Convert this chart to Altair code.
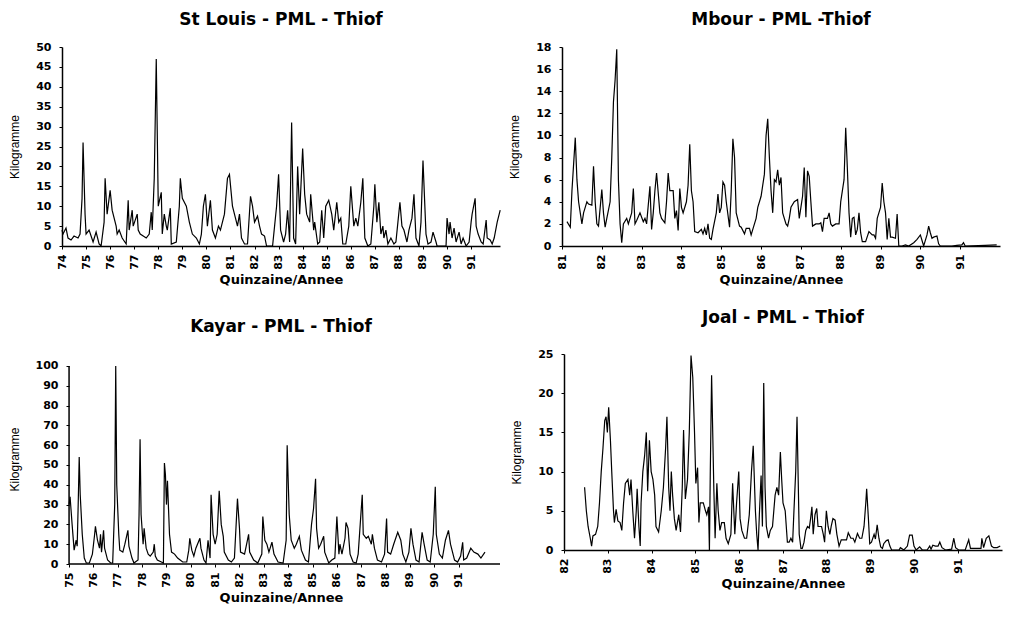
import altair as alt
import pandas as pd

# ---- St Louis: (quinzaine index from Jan 1974, kg) ----
st_louis = [(0,4),(1,3),(4,4.5),(6,2),(9,1.5),(12,2.5),(16,2),(18,3),(20,12),(21,26),(23,8),(24,3),(27,4),(31,1),(34,3.5),(37,0.5),(39,0),(42,6),(43,17),(45,8),(48,14),(50,9),(54,5),(55,3),(57,4),(60,2),(64,0.5),(66,11.5),(67,4),(70,9),(71,5),(75,8),(76,4),(78,3),(81,2.5),(84,2),(87,3),(89,8.5),(90,4),(92,17),(94,47),(96,10),(99,13.5),(100,3),(102,8),(104,5),(105,4),(108,9.5),(109,0.5),(114,1),(117,10),(118,17),(120,12),(124,10),(127,6),(130,3),(134,2),(137,0.5),(139,3),(141,10),(143,13),(145,5),(148,11.5),(150,4),(153,2),(156,5),(158,4),(162,8),(165,17),(167,18),(170,10),(173,7),(175,5),(177,8),(179,2),(182,0.5),(185,0.5),(188,12.5),(190,10),(192,6),(195,7.5),(197,5),(199,3),(202,2.5),(204,0),(210,0),(212,5),(214,10),(216,18),(218,4),(221,1),(223,3),(225,9),(227,1),(229,31),(231,2),(233,0.5),(235,20),(237,8),(240,24.5),(242,13),(244,8),(247,6),(248,13),(251,4),(252,6),(255,0.5),(257,1),(259,9),(261,2),(263,10),(266,11.5),(269,8),(271,4),(274,11),(276,6),(278,7),(280,0.5),(283,0.5),(286,5),(288,15),(291,5),(293,7),(295,5),(298,11),(300,17),(302,2),(305,0),(308,0.5),(311,10),(312,15.5),(314,6),(316,11),(318,3),(320,5),(321,2),(323,4),(325,0.5),(328,2),(331,0.5),(333,1),(335,6),(337,11),(339,5),(341,4),(344,1),(346,4),(349,7),(351,13),(353,2),(356,0),(358,6),(360,21.5),(363,3),(365,0.5),(368,1),(370,3.5),(373,1),(374,0),(383,0),(384,7),(386,3),(387,6),(389,2),(391,4.5),(393,1),(396,3.5),(398,0.5),(400,2),(403,0),(406,1),(408,6),(409,8),(412,12),(413,5),(415,3),(418,1),(420,0.5),(423,6.5),(424,2),(427,1.5),(429,0.5),(431,2),(434,6),(437,9)]

# ---- Mbour: (quinzaine index from Jan 1981, kg) ----
mbour = [(3,2.2),(5,1.7),(6,5),(8,9.8),(9,6),(10,4),(12,2),(13,3),(15,4),(16,3.8),(18,3.7),(19,7.2),(20,4),(21,2),(22,1.8),(24,5.1),(25,3),(26,1.7),(27,2.5),(29,4),(30,8),(31,13),(32,15),(33,17.8),(34,6),(35,2),(36,0.3),(37,2),(39,2.5),(40,2),(42,3),(43,5.2),(44,2),(45,2.3),(47,3),(49,2.2),(50,2.5),(51,2),(53,5.4),(54,1.5),(55,3),(56,5),(57,6.6),(59,3),(60,2.5),(62,2.1),(63,4),(64,6.6),(65,5),(67,5),(68,2.5),(69,3.2),(70,1.4),(71,5.2),(72,3.5),(73,3),(75,4),(76,5.5),(77,9.2),(78,5),(79,4),(80,1.3),(82,1.2),(84,1.5),(85,1.1),(86,1.6),(87,1),(88,2),(89,0.7),(90,0.6),(91,1.5),(93,3),(94,4.7),(95,3),(96,3.5),(97,5.8),(98,5.5),(99,4),(101,1.7),(102,5),(103,9.7),(104,8),(105,3),(107,1.8),(108,1.7),(110,1.1),(111,1.6),(113,1.6),(114,1),(115,1.5),(117,2.5),(118,3.5),(120,4.5),(121,5.5),(122,6.5),(123,10),(124,11.5),(125,8),(126,5),(127,3),(128,6),(129,5.8),(130,6.9),(131,5.5),(132,6.2),(133,3),(135,2),(136,1.8),(137,2.5),(138,3.5),(140,4),(142,4.2),(143,2.5),(144,3.5),(145,4.5),(146,7.1),(147,2.6),(148,6.8),(149,6.3),(150,4),(151,1.8),(153,2),(155,2),(156,2.1),(157,1.3),(158,2.5),(160,2.5),(161,3),(162,2),(163,1.8),(165,2),(167,2),(168,4),(170,6),(171,10.7),(172,7),(173,3),(174,0.8),(175,2.5),(176,2.6),(177,1),(178,1.5),(179,3),(180,1.2),(181,0.4),(183,0.4),(185,1.3),(187,1),(188,1),(189,0.7),(190,2.5),(192,3.5),(193,5.7),(194,4),(195,3),(196,0.6),(197,2.5),(198,0.8),(199,0.8),(201,0.7),(202,2.9),(203,0),(205,0),(207,0.1),(209,0),(212,0.3),(214,0.6),(216,1),(217,0.5),(218,0),(220,1),(221,1.8),(222,1.2),(223,0.7),(224,0.8),(226,0.9),(227,0.2),(228,0),(235,0),(238,0.05),(241,0.1),(242,0.3),(243,0),(255,0.05),(262,0.1)]

# ---- Kayar: (quinzaine index from Jan 1975, kg) ----
kayar = [(0,30),(1,34),(3,20),(5,7),(7,12),(8,9),(9,30),(10,54),(11,35),(13,15),(15,3),(17,0.5),(20,0.5),(23,5),(25,14),(26,19),(28,12),(30,8),(31,15),(32,6),(34,17),(35,8),(38,2),(41,0.5),(43,0.5),(45,30),(46,100),(47,40),(49,15),(50,7),(53,6),(55,10),(58,17),(59,9),(62,3),(64,0.5),(68,2),(69,25),(70,63),(71,25),(73,10),(74,18),(76,8),(78,5),(80,4),(83,6),(84,10),(85,4),(87,2),(91,1),(93,0.5),(94,51),(95,45),(96,30),(97,42),(99,15),(101,6),(104,5),(107,3),(112,1),(116,1),(118,7),(119,13),(121,7),(123,4),(125,8),(129,13),(130,8),(133,2),(135,0.5),(137,12),(139,3),(140,35),(142,15),(144,10),(146,15),(148,37),(150,20),(152,14),(153,6),(157,2),(160,1),(163,3),(166,33),(168,18),(169,6),(173,5),(177,15),(178,6),(182,2),(186,0.5),(190,5),(191,24),(193,12),(195,10),(197,6),(200,11),(202,5),(206,1),(211,0.5),(214,12),(215,60),(217,25),(219,12),(222,8),(224,10),(227,14),(229,7),(233,2),(236,1),(239,20),(241,28),(243,43),(244,18),(246,8),(248,10),(251,14),(252,6),(256,0.5),(259,2),(262,3),(264,24),(266,5),(267,10),(269,5),(272,13),(273,21),(275,18),(277,5),(280,1),(283,0.5),(285,5),(287,20),(289,35),(290,15),(293,13),(295,14),(298,10),(299,15),(301,8),(304,2),(308,1),(311,5),(313,23),(314,6),(317,5),(320,10),(324,16),(327,12),(329,5),(332,1),(335,6),(337,18),(339,10),(342,2),(345,1),(348,16),(350,10),(353,2),(356,1),(359,15),(361,39),(362,15),(365,5),(368,3),(371,12),(374,17),(376,10),(380,2),(383,1),(386,4),(388,11),(389,2),(392,3),(396,8),(399,6),(403,5),(406,3),(410,6)]

# ---- Joal: (year, kg) ----
joal = [(82.47,8),(82.51,5),(82.55,3),(82.60,1.5),(82.63,0.5),(82.66,1.8),(82.72,2),(82.77,3),(82.81,6),(82.85,10),(82.89,13),(82.93,16.5),(82.96,17),(82.99,15),(83.02,18.2),(83.06,14),(83.09,10),(83.13,5),(83.15,3.5),(83.19,5.2),(83.23,3.7),(83.28,3.5),(83.32,2.5),(83.36,6),(83.40,8.5),(83.46,9),(83.50,7),(83.53,9),(83.57,5),(83.61,1.5),(83.65,5),(83.67,7.8),(83.71,3),(83.74,0.5),(83.76,6),(83.80,10),(83.84,12),(83.88,15),(83.91,7.5),(83.95,14),(83.99,10),(84.03,9),(84.07,7),(84.10,3),(84.16,2.3),(84.22,5),(84.27,8),(84.32,13),(84.35,17),(84.39,8),(84.42,5),(84.45,10),(84.48,7),(84.52,4),(84.56,2.5),(84.62,4.5),(84.66,2.3),(84.70,8),(84.73,15.3),(84.77,6.5),(84.82,9),(84.86,15),(84.90,24.8),(84.94,22),(84.98,15),(85.01,8.5),(85.05,10.5),(85.08,3.5),(85.11,6),(85.18,6),(85.23,5),(85.26,4.5),(85.30,5.5),(85.32,0),(85.34,10),(85.37,22.3),(85.42,8),(85.45,1.5),(85.49,8.5),(85.52,5),(85.56,2.5),(85.60,3.5),(85.66,3.5),(85.70,1.5),(85.75,0.8),(85.81,2),(85.85,8.5),(85.90,2),(85.94,6),(85.99,10),(86.02,4),(86.06,2.5),(86.12,1.5),(86.17,1.5),(86.23,4.5),(86.28,10),(86.32,13.3),(86.37,5),(86.40,2),(86.43,0),(86.46,4.5),(86.50,9.5),(86.53,3),(86.56,21.3),(86.59,8),(86.62,3),(86.67,1.5),(86.71,2.5),(86.76,3),(86.82,7),(86.86,8),(86.90,7),(86.94,12.5),(86.97,9),(87.00,6),(87.05,5),(87.10,1),(87.14,1),(87.18,1.5),(87.22,1),(87.25,5),(87.29,10),(87.32,17),(87.35,8),(87.37,2),(87.41,0.2),(87.44,0.2),(87.48,1),(87.52,2.5),(87.56,3),(87.60,2.8),(87.63,4),(87.66,5.5),(87.69,2),(87.73,4.5),(87.77,5.3),(87.80,3),(87.84,3),(87.88,3),(87.92,2),(87.95,1),(87.99,5),(88.03,3),(88.07,2),(88.10,3),(88.14,4),(88.19,3.8),(88.23,2),(88.28,0.5),(88.33,1.3),(88.39,1.3),(88.45,1.3),(88.49,2.2),(88.55,1.5),(88.60,1.5),(88.64,1),(88.70,2.1),(88.75,1.5),(88.80,1.5),(88.85,3),(88.89,6),(88.91,7.8),(88.95,4),(88.98,0.8),(89.02,1),(89.08,2),(89.11,1.4),(89.15,3.2),(89.19,1.5),(89.23,0.4),(89.27,0.2),(89.30,0.8),(89.36,1.2),(89.40,1.3),(89.44,0.5),(89.48,0),(89.65,0),(89.68,0.3),(89.76,0),(89.84,0.5),(89.89,1.9),(89.95,1.9),(89.99,0.5),(90.04,0),(90.12,0.4),(90.18,0),(90.29,0),(90.35,0.5),(90.38,0.1),(90.42,0.6),(90.48,0.5),(90.54,0.5),(90.58,1),(90.63,0.3),(90.71,0),(90.85,0.1),(90.90,1.5),(90.94,0.3),(91.01,0),(91.16,0),(91.24,1.3),(91.28,0.2),(91.39,0.2),(91.52,0.2),(91.54,1.5),(91.58,0.3),(91.64,1.5),(91.70,1.8),(91.76,0.5),(91.81,0.3),(91.89,0.3),(91.96,0.5)]

st_louis_years = list(range(74, 92))
mbour_years = list(range(81, 92))
kayar_years = list(range(75, 92))
joal_years = list(range(82, 92))

st_louis_kg_ticks = list(range(0, 51, 5))
mbour_kg_ticks = list(range(0, 19, 2))
kayar_kg_ticks = list(range(0, 101, 10))
joal_kg_ticks = list(range(0, 26, 5))

# Kayar axis extents (that panel's frame runs from 75 to 92.7 and from 0 to 100 kg)
kayar_axis_x = [75, 92.7]
kayar_axis_y = [0, 100]


def from_quinzaine(pairs, start):
    return pd.DataFrame({"year": [start + q / 24 for q, _ in pairs],
                         "kg": [v for _, v in pairs]})


def from_year(pairs):
    return pd.DataFrame({"year": [y for y, _ in pairs], "kg": [v for _, v in pairs]})


def x_axis(vals, domain=True):
    return alt.Axis(values=vals, format="d", labelAngle=270,
                    tickSize=3, labelPadding=5, labelOverlap=False,
                    labelFlush=False, domain=domain,
                    title="Quinzaine/Annee", titlePadding=4,
                    titleFont="DejaVu Sans", titleFontSize=13,
                    titleFontWeight="bold")


def y_axis(vals, domain=True, offset=0):
    return alt.Axis(values=vals, tickSize=3, labelPadding=8,
                    labelOverlap=False, labelFlush=False, domain=domain,
                    offset=offset,
                    title="Kilogramme", titlePadding=14,
                    titleFont="Liberation Sans", titleFontSize=12,
                    titleFontWeight="normal")


def xs(dom):
    return alt.Scale(domain=dom, nice=False, zero=False)


def ys(dom):
    return alt.Scale(domain=dom, nice=False)


def line(df, xdom, xvals, ydom, yvals, domain=True, yoffset=0):
    return alt.Chart(df).mark_line(color="black", strokeWidth=1.2).encode(
        x=alt.X("year:Q", scale=xs(xdom), axis=x_axis(xvals, domain)),
        y=alt.Y("kg:Q", scale=ys(ydom), axis=y_axis(yvals, domain, yoffset)),
    )


def titled(ch, title, w, h, toff):
    return ch.properties(
        width=w, height=h,
        title=alt.TitleParams(title, anchor="middle", frame="group", offset=toff),
    )


c1 = titled(line(from_quinzaine(st_louis, 74), [74, 92.2], st_louis_years,
                 [0, 50], st_louis_kg_ticks),
            "St Louis - PML - Thiof", 438, 199, 12)
c2 = titled(line(from_quinzaine(mbour, 81), [81, 92], mbour_years,
                 [0, 18], mbour_kg_ticks),
            "Mbour - PML -Thiof", 438, 199, 12)

# Kayar: its frame sits a little lower and to the right of the shared grid cell
k_xdom, k_ydom = [74.71, 92.7], [0, 106.06]
kayar_line = line(from_quinzaine(kayar, 75), k_xdom, kayar_years,
                  k_ydom, kayar_kg_ticks, domain=False, yoffset=-7)
kayar_xrule = alt.Chart(pd.DataFrame({"year": [kayar_axis_x[0]], "year2": [kayar_axis_x[1]],
                                      "kg": [kayar_axis_y[0]]})).mark_rule(
    color="black", strokeWidth=1.5).encode(
    x=alt.X("year:Q", scale=xs(k_xdom), axis=x_axis(kayar_years, False)),
    x2="year2:Q",
    y=alt.Y("kg:Q", scale=ys(k_ydom), axis=y_axis(kayar_kg_ticks, False, -7)))
kayar_yrule = alt.Chart(pd.DataFrame({"year": [kayar_axis_x[0]], "kg": [kayar_axis_y[0]],
                                      "kg2": [kayar_axis_y[1]]})).mark_rule(
    color="black", strokeWidth=1.5).encode(
    x=alt.X("year:Q", scale=xs(k_xdom), axis=x_axis(kayar_years, False)),
    y=alt.Y("kg:Q", scale=ys(k_ydom), axis=y_axis(kayar_kg_ticks, False, -7)),
    y2="kg2:Q")
c3 = titled(alt.layer(kayar_line, kayar_xrule, kayar_yrule),
            "Kayar - PML - Thiof", 438, 210, 18)

c4 = titled(line(from_year(joal), [82, 92], joal_years, [0, 25], joal_kg_ticks),
            "Joal - PML - Thiof", 438, 196, 21)

chart = alt.vconcat(
    alt.hconcat(c1, c2, spacing=5),
    alt.hconcat(c3, c4, spacing=9),
    spacing=22,
).configure_view(stroke=None).configure_axis(
    grid=False, domainColor="black", domainWidth=1.5, tickColor="black",
    labelColor="black", titleColor="black",
    labelFont="DejaVu Sans", labelFontWeight="bold", labelFontSize=11,
).configure_title(
    font="DejaVu Sans", fontSize=17, fontWeight="bold", color="black",
).properties(background="white",
             padding={"left": 0, "top": 3, "right": 0, "bottom": 0})

chart.save("out.html", embed_options={"renderer": "svg", "actions": False})
